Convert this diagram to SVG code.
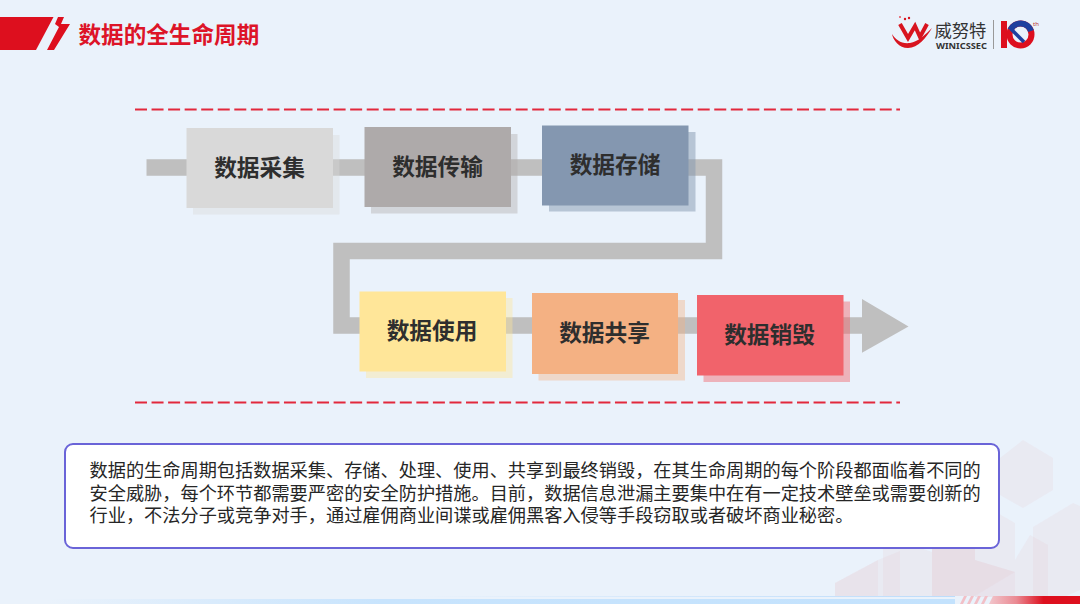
<svg xmlns="http://www.w3.org/2000/svg" width="1080" height="604" viewBox="0 0 1080 604">
<defs>
<linearGradient id="strip" x1="0" x2="1" y1="0" y2="0"><stop offset="0.05" stop-color="#eaf2fb"/><stop offset="0.4" stop-color="#c8e4fd"/><stop offset="1" stop-color="#c3e2fd"/></linearGradient>
<linearGradient id="line" x1="0" x2="1" y1="0" y2="0"><stop offset="0.4" stop-color="#eaf2fb"/><stop offset="1" stop-color="#bcdcfb"/></linearGradient>
<linearGradient id="red" x1="0" x2="1" y1="0" y2="0"><stop offset="0" stop-color="#f2c6cc"/><stop offset="0.3" stop-color="#ea8a93"/><stop offset="0.6" stop-color="#dd0f1e"/><stop offset="1" stop-color="#dd0f1e"/></linearGradient>
</defs>
<style>
text{font-family:"Noto Sans CJK SC","Liberation Sans",sans-serif}
.l{font-size:22.7px;font-weight:700;fill:#2e2e2e;text-anchor:middle}
.b{font-size:18.2px;fill:#262626}
.d{stroke:#e2283c;stroke-width:2;stroke-dasharray:12 4.55;fill:none}
.hex{fill:#e6bfca;opacity:.16}
.hexd{fill:#e2a9b6;opacity:.2}
.lat{font-family:"Noto Sans","Liberation Sans",sans-serif}
</style>
<rect width="1080" height="604" fill="#eaf2fb"/>
<g id="background">
<polygon class="hex" points="1023,440 1053,458 1053,490 1023,508 1000,495 1000,458"/>
<polygon class="hex" points="1073,503 1080,506 1080,590 1048,604 1033,597 1033,527"/>
<polygon class="hex" points="1030,535 1048,545 1048,597 1015,597 1015,560"/>
<polygon class="hex" points="975,500 1015,523 1015,572 975,596 932,596 932,523"/>
<polygon class="hexd" points="932,549 975,524 975,596 932,596"/>
<polygon class="hexd" points="975,560 1015,572 1015,597 975,597"/>
<polygon class="hex" points="920,548 932,552 932,597 883,597 883,548"/>
<polygon class="hex" points="878,560 900,551 900,597 835,597 835,583"/>
<polygon class="hex" points="878,560 878,597 835,597 835,583"/>
<rect x="50" y="596" width="905" height="1" fill="url(#line)"/>
<rect x="0" y="599" width="955" height="5" fill="url(#strip)"/>
<g fill="#f2c0c7"><polygon points="964,596 967,596 963,604 960,604"/><polygon points="971,596 974,596 970,604 967,604"/><polygon points="978,596 981,596 977,604 974,604"/><polygon points="985,596 988,596 984,604 981,604"/></g>
<polygon points="993,596 1080,596 1080,604 989,604" fill="url(#red)"/>
</g>
<g id="header">
<polygon points="0,17 53.500,17 36,50 0,50" fill="#dd0f1e"/>
<polygon points="58,17 64,17 61,24 70,24 54,50 47,50 59,27 55,24" fill="#dd0f1e"/>
<text x="78.500" y="43" font-size="22.600" font-weight="700" fill="#dd1428">数据的全生命周期</text>
</g>
<g id="logo">
<circle cx="900" cy="17" r="1" fill="#e8505a"/><circle cx="905" cy="19" r="1.200" fill="#d8141f"/><circle cx="909" cy="18" r="1.200" fill="#d8141f"/>
<path d="M900,24 L908,38 L915,26 L920,37 L927,24" fill="none" stroke="#d8141f" stroke-width="4"/>
<path d="M892,34 C893,40 899,48 908,48 C918,48 926,38 932,28 C926,34 918,42 910,43 C901,44 896,40 892,34Z" fill="#d8141f"/>
<text x="934.500" y="36.500" font-size="17.300" fill="#333">威努特</text>
<text class="lat" x="936" y="48.700" font-size="8.400" font-weight="700" fill="#333" textLength="51" lengthAdjust="spacingAndGlyphs">WINICSSEC</text>
<rect x="993" y="20" width="1" height="29" fill="#999"/>
<rect x="1001" y="21" width="6" height="27" fill="#dd0f1e"/>
<circle cx="1020.500" cy="34.500" r="11" fill="none" stroke="#dd0f1e" stroke-width="6"/>
<path d="M1010.500,30 A11,11 0 0 1 1031,31" fill="none" stroke="#1f3f9e" stroke-width="6"/>
<path d="M1011,29 L1024,42" fill="none" stroke="#1f3f9e" stroke-width="3.500"/>
<text class="lat" x="1033" y="26" font-size="6" fill="#b33">th</text>
</g>
<g id="connectors" fill="#bfbfbf">
<path d="M146.500,167.500 H714 V251 H341.500 V325.500 H864" fill="none" stroke="#bfbfbf" stroke-width="16.500"/>
<polygon points="862,299 908.500,326.500 862,352.700"/>
</g>
<line class="d" x1="135" y1="109.500" x2="900" y2="109.500"/>
<line class="d" x1="135" y1="402.500" x2="900" y2="402.500"/>
<g id="n1"><rect x="193" y="135" width="146.500" height="79.500" fill="#d9d9d9" opacity=".4"/><rect x="186.500" y="128" width="146.500" height="80" fill="#d9d9d9"/><text class="l" x="259.500" y="175.500">数据采集</text></g>
<g id="n2"><rect x="371" y="134" width="146.500" height="79.500" fill="#aeaaaa" opacity=".4"/><rect x="364.500" y="127" width="146.500" height="80" fill="#aeaaaa"/><text class="l" x="437.500" y="174.500">数据传输</text></g>
<g id="n3"><rect x="549" y="132" width="146.500" height="79.500" fill="#8497b0" opacity=".5"/><rect x="542" y="125.500" width="146.500" height="80" fill="#8497b0"/><text class="l" x="615" y="173">数据存储</text></g>
<g id="n4"><rect x="366" y="298" width="146.500" height="80" fill="#ffe699" opacity=".4"/><rect x="359.500" y="291.500" width="146.500" height="80" fill="#ffe699"/><text class="l" x="432" y="339">数据使用</text></g>
<g id="n5"><rect x="538.500" y="300" width="146.500" height="80.500" fill="#f4b183" opacity=".4"/><rect x="532" y="293" width="146" height="81" fill="#f4b183"/><text class="l" x="604.500" y="341">数据共享</text></g>
<g id="n6"><rect x="703.500" y="301.500" width="146.500" height="80.500" fill="#f1636b" opacity=".45"/><rect x="697" y="295" width="146.500" height="80.500" fill="#f1636b"/><text class="l" x="769.500" y="343">数据销毁</text></g>
<g id="note">
<rect x="65" y="444" width="934" height="104" rx="8" fill="#fff" stroke="#6a64d8" stroke-width="2"/>
<text class="b" x="89.500" y="477">数据的生命周期包括数据采集、存储、处理、使用、共享到最终销毁，在其生命周期的每个阶段都面临着不同的</text>
<text class="b" x="89.500" y="499.500">安全威胁，每个环节都需要严密的安全防护措施。目前，数据信息泄漏主要集中在有一定技术壁垒或需要创新的</text>
<text class="b" x="89.500" y="522">行业，不法分子或竞争对手，通过雇佣商业间谍或雇佣黑客入侵等手段窃取或者破坏商业秘密。</text>
</g>
</svg>
